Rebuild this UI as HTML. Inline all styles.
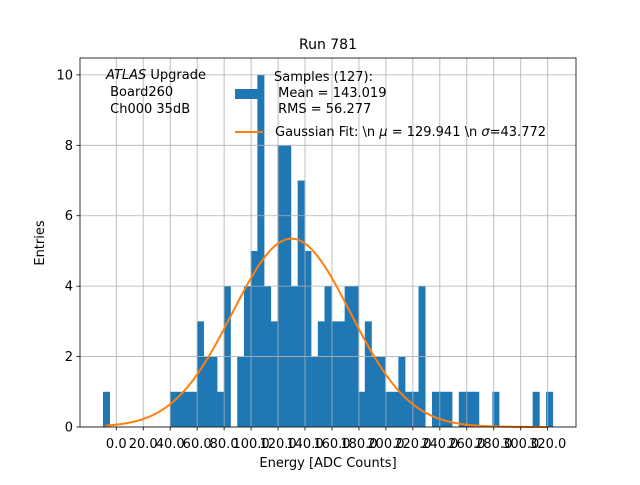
<!DOCTYPE html>
<html><head><meta charset="utf-8"><style>
body{margin:0;background:#fff}
svg text{font-family:"DejaVu Sans","Liberation Sans",sans-serif;white-space:pre}
</style></head><body>
<svg id="chart" width="640" height="480" xmlns="http://www.w3.org/2000/svg" xml:space="preserve">
<rect width="640" height="480" fill="#fff"/>
<g id="bars"></g>
<g id="grid"></g>
<path id="fit" fill="none" stroke="#ff7f0e" stroke-width="2"/>
<rect x="80" y="58" width="496" height="369" fill="none" stroke="#000" stroke-width="0.8"/>
<g id="xticks"></g>
<g id="yticks"></g>
<text x="328" y="49" font-size="14" text-anchor="middle">Run 781</text>
<text x="328" y="467" font-size="13" text-anchor="middle">Energy [ADC Counts]</text>
<text transform="translate(44,243) rotate(-90)" font-size="13" text-anchor="middle">Entries</text>
<g font-size="13">
<text x="106" y="79"><tspan font-style="italic">ATLAS</tspan> Upgrade</text>
<text x="106" y="96"> Board260</text>
<text x="106" y="113"> Ch000 35dB</text>
</g>
<g font-size="13">
<rect x="235" y="89" width="28" height="10" fill="#1f77b4"/>
<text x="274" y="81">Samples (127):</text>
<text x="274" y="97"> Mean = 143.019</text>
<text x="274" y="113"> RMS = 56.277</text>
<line x1="235" y1="132" x2="263" y2="132" stroke="#ff7f0e" stroke-width="2"/>
<text x="275" y="136">Gaussian Fit: \n <tspan font-style="italic">μ</tspan> = 129.941 \n <tspan font-style="italic">σ</tspan>=43.772</text>
</g>
</svg>
<script>
const counts=[1,0,0,0,0,0,0,0,0,0, 1,1,1,1,3,2,2,1,4,0, 2,4,5,10,4,3,8,8,4,7, 5,2,3,4,3,3,4,4,1,3, 2,2,1,1,2,1,1,4,0,1, 1,1,0,1,1,1,0,0,1,0, 0,0,0,0,1,0,1];
const binStart=-9.87;
const binWidth=4.98;
const xTicks=[0,20,40,60,80,100,120,140,160,180,200,220,240,260,280,300,320];
const yTicks=[0,2,4,6,8,10];
const fitMu=129.941, fitSigma=43.772, fitAmp=5.35;
const fitRange=[-8,320];

const X0=80,X1=576,Y0=427,Y1=58, xmin=-26.9, xmax=341, ymin=0, ymax=10.48;
const sx=v=>X0+(v-xmin)/(xmax-xmin)*(X1-X0);
const sy=v=>Y0-(v-ymin)/(ymax-ymin)*(Y0-Y1);
const NS="http://www.w3.org/2000/svg";
function mk(tag,attrs,parent){const e=document.createElementNS(NS,tag);for(const k in attrs)e.setAttribute(k,attrs[k]);parent.appendChild(e);return e;}
const bars=document.getElementById('bars');
counts.forEach((c,i)=>{
  if(c<=0)return;
  const l=sx(binStart+i*binWidth), r=sx(binStart+(i+1)*binWidth);
  const b=mk('rect',{x:l,y:sy(c),width:r-l+0.3,height:sy(0)-sy(c),fill:'#1f77b4'},bars);
  
  
});
const grid=document.getElementById('grid'), xt=document.getElementById('xticks'), yt=document.getElementById('yticks');
xTicks.forEach(t=>{
  const x=sx(t);
  const g=mk('line',{x1:x,x2:x,y1:Y1,y2:Y0,stroke:'#b0b0b0','stroke-width':0.8},grid);
  
  
  mk('line',{x1:x,x2:x,y1:Y0,y2:Y0+3.5,stroke:'#000','stroke-width':0.8},xt);
  const tx=mk('text',{x:x,y:Y0+21,'font-size':13,'text-anchor':'middle'},xt);
  tx.textContent=t.toFixed(1);
  
  
});
yTicks.forEach(t=>{
  const y=sy(t);
  const g=mk('line',{x1:X0,x2:X1,y1:y,y2:y,stroke:'#b0b0b0','stroke-width':0.8},grid);
  
  
  mk('line',{x1:X0-3.5,x2:X0,y1:y,y2:y,stroke:'#000','stroke-width':0.8},yt);
  const tx=mk('text',{x:X0-7,y:y+4.5,'font-size':13,'text-anchor':'end'},yt);
  tx.textContent=t;
  
  
});
let d='';
for(let i=0;i<=200;i++){
  const v=fitRange[0]+(fitRange[1]-fitRange[0])*i/200;
  const f=fitAmp*Math.exp(-0.5*((v-fitMu)/fitSigma)**2);
  d+=(i?'L':'M')+sx(v).toFixed(2)+','+sy(f).toFixed(2);
}
document.getElementById('fit').setAttribute('d',d);
</script>
</body></html>
